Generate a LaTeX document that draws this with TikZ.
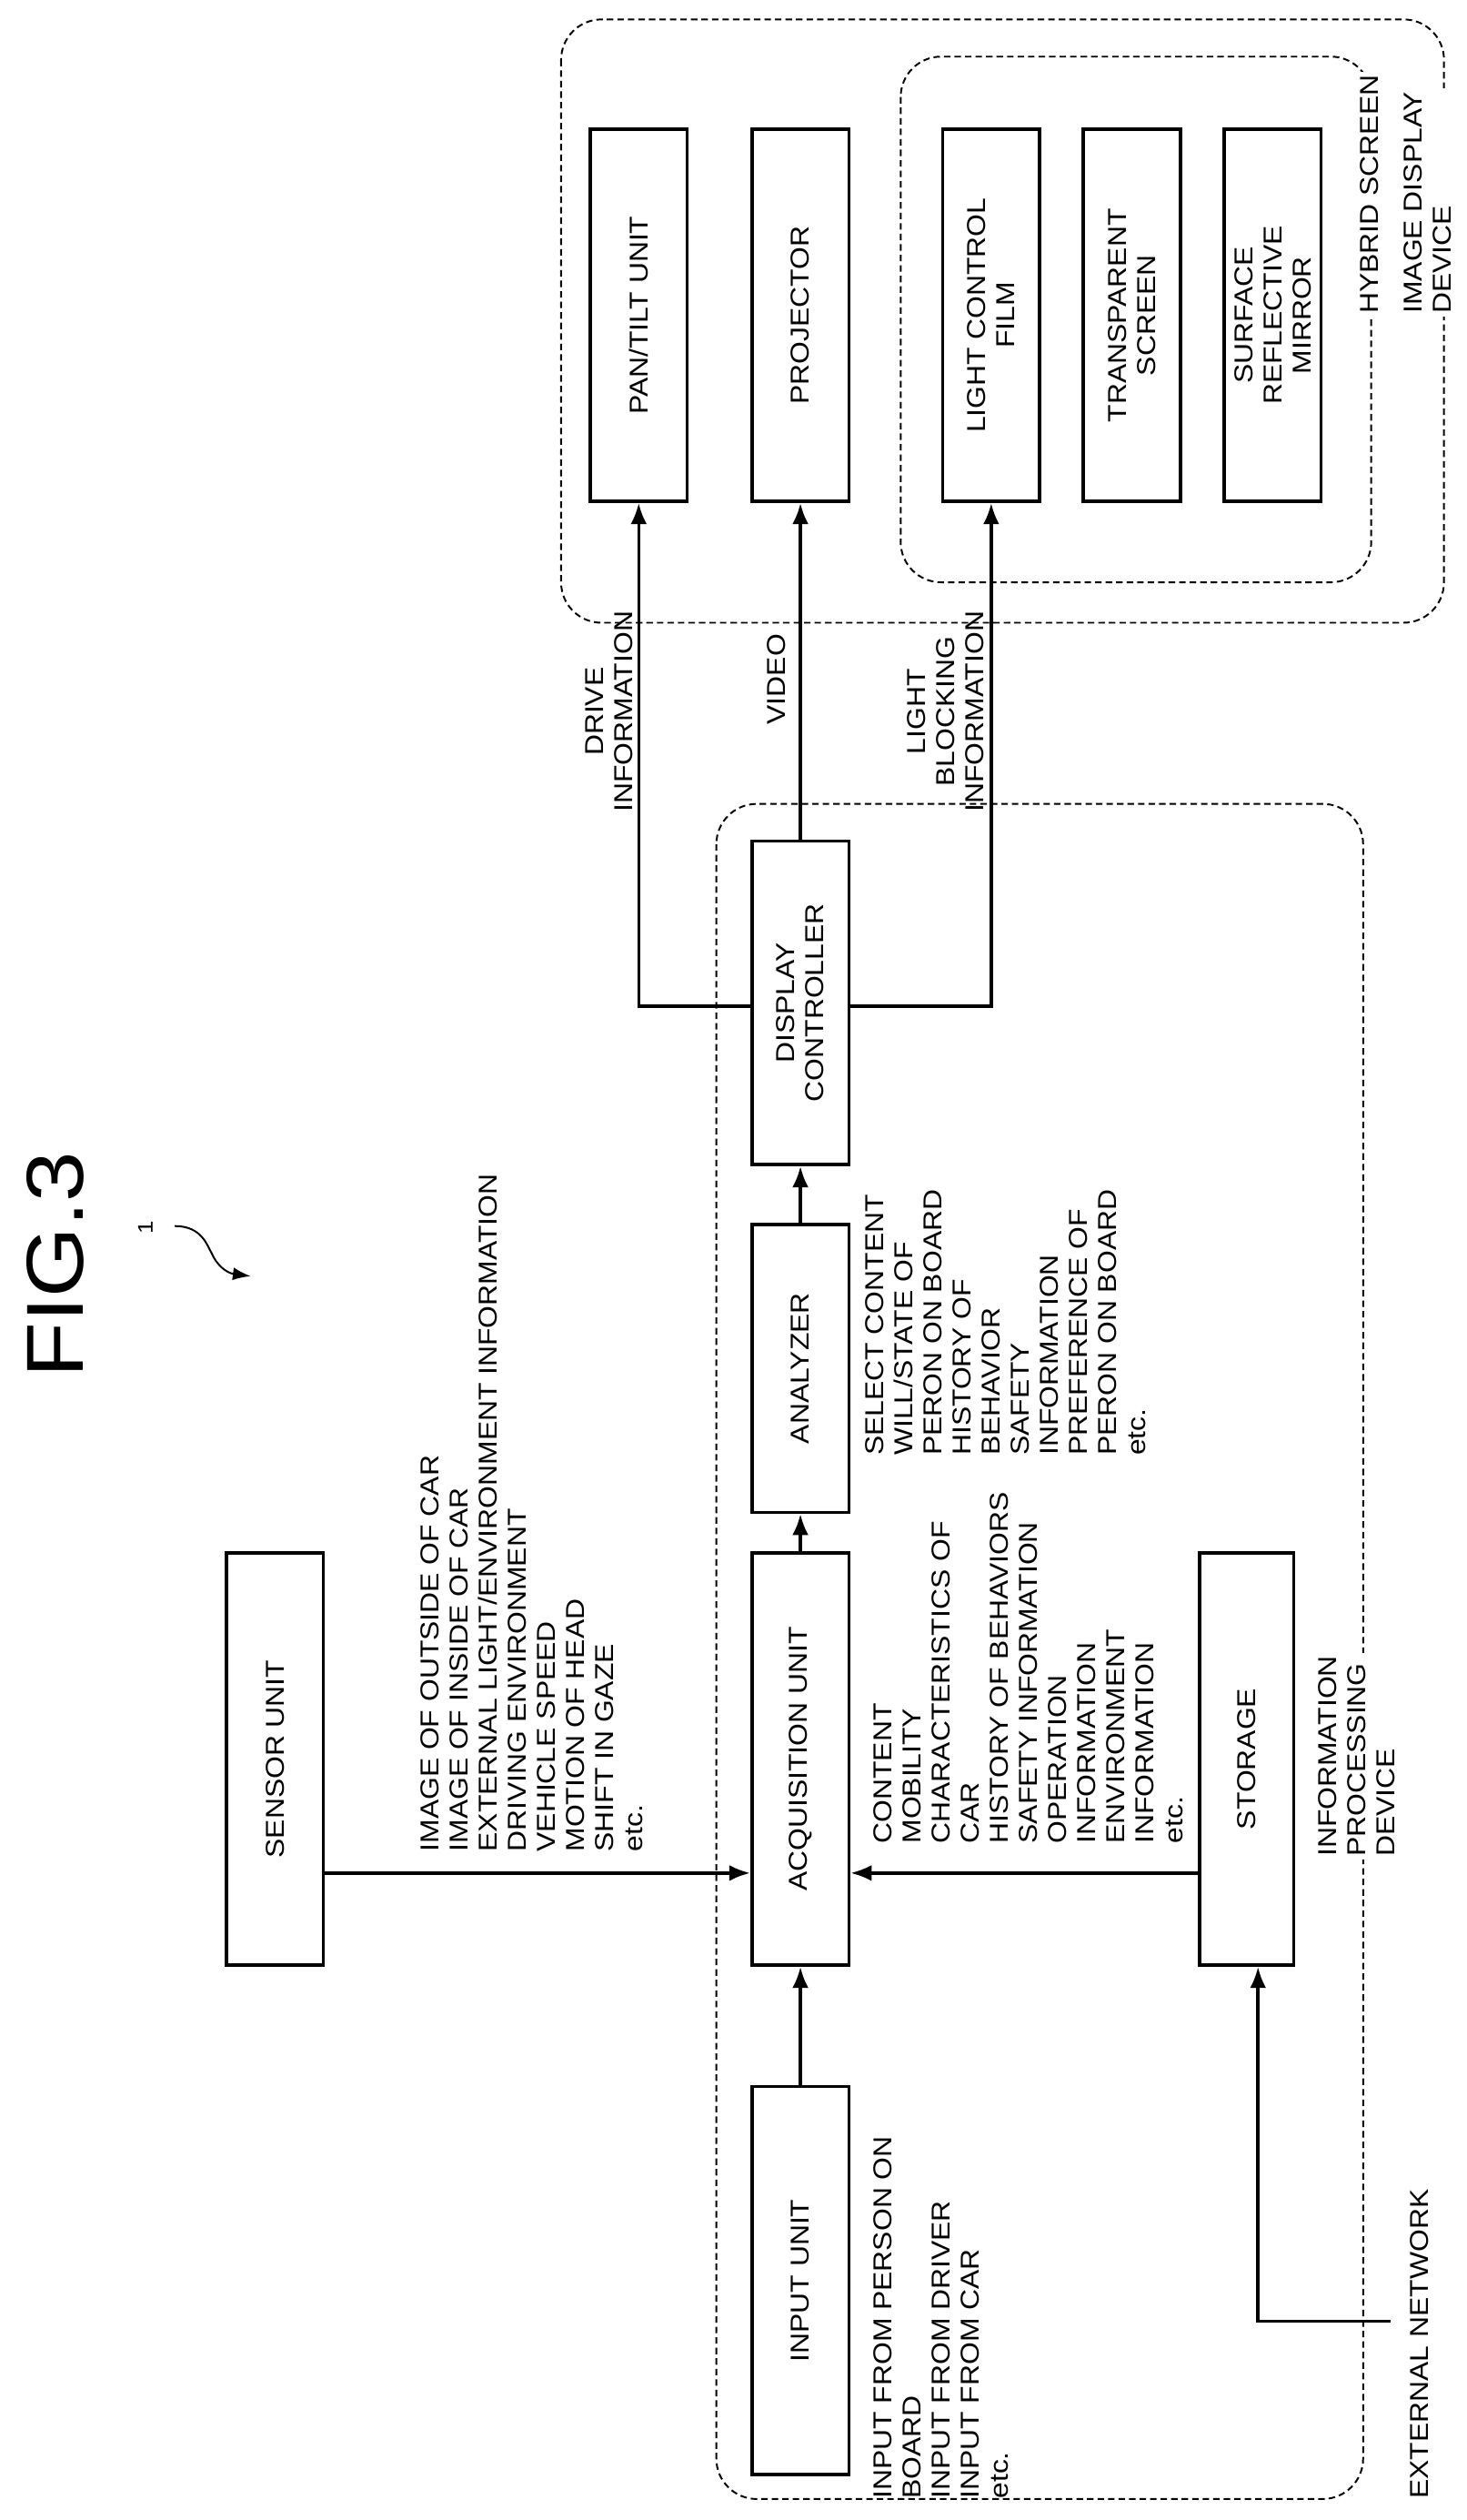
\documentclass[tikz,border=0pt]{standalone}
\usepackage{fontspec}
\setmainfont{Liberation Sans}[FakeStretch=1.12]
\usetikzlibrary{arrows.meta}
\begin{document}
\begin{tikzpicture}[x=1pt,y=-1pt,
  box/.style={draw,line width=2pt,rotate=90,minimum height=60pt,inner sep=0pt,font=\fontsize{16}{18}\selectfont,align=center},
  txt/.style={rotate=90,align=left,anchor=north west,inner sep=0pt,font=\fontsize{16}{18}\selectfont},
  ctxt/.style={rotate=90,align=center,inner sep=1pt,font=\fontsize{16}{18}\selectfont},
  lab/.style={rotate=90,align=left,inner sep=2pt,fill=white,font=\fontsize{16}{18}\selectfont},
  grp/.style={draw,dash pattern=on 4pt off 2.5pt,line width=1.1pt,rounded corners=25pt},
  arr/.style={line width=2pt,-{Latex[length=13pt,width=10pt]}}]
\useasboundingbox (0,0) rectangle (907,1558);
% groups
\draw[grp] (443,497) rectangle (843,1545);
\draw[grp] (347,12) rectangle (893,385);
\draw[grp] (557,35) rectangle (848,360);
\node[lab,anchor=north west] (ipd) at (813,1150) {INFORMATION\\PROCESSING\\DEVICE};
\node[lab,anchor=north west] (hyb) at (839,196) {HYBRID SCREEN};
\node[lab,anchor=north west] (idd) at (866,196) {IMAGE DISPLAY\\DEVICE};
% title
\node[rotate=90,font=\fontsize{50}{50}\selectfont,inner sep=0pt] (fig) at (34,782) {FIG.3};
\node[rotate=90,font=\fontsize{13}{13}\selectfont,inner sep=0pt] (one) at (90,759) {1};
\coordinate (oneend) at (155,789);
\draw[line width=1.1pt,-{Latex[length=11pt,width=8pt]}] (108,758) .. controls (125,758) and (128,770) .. (131,775) .. controls (134,782) and (140,787) .. (oneend);
% boxes
\node[box,minimum width=240pt] (inp) at (495,1410) {INPUT UNIT};
\node[box,minimum width=255pt] (acq) at (495,1087.5) {ACQUISITION UNIT};
\node[box,minimum width=178pt] (ana) at (495,846) {ANALYZER};
\node[box,minimum width=200pt] (dc) at (495,620) {DISPLAY\\CONTROLLER};
\node[box,minimum width=255pt] (sen) at (170,1087.5) {SENSOR UNIT};
\node[box,minimum width=255pt,minimum height=58pt] (sto) at (771,1087.5) {STORAGE};
\node[box,minimum width=230pt] (pan) at (395,195) {PAN/TILT UNIT};
\node[box,minimum width=230pt] (pro) at (495,195) {PROJECTOR};
\node[box,minimum width=230pt] (lcf) at (613,195) {LIGHT CONTROL\\FILM};
\node[box,minimum width=230pt] (ts) at (700,195) {TRANSPARENT\\SCREEN};
\node[box,minimum width=230pt] (srm) at (787,195) {SURFACE\\REFLECTIVE\\MIRROR};
% connectors
\draw[arr] (inp.east) -- (acq.west);
\draw[arr] (acq.east) -- (ana.west);
\draw[arr] (ana.east) -- (dc.west);
\draw[arr] (sen.south |- 0,1158) -- (acq.north |- 0,1158);
\draw[arr] (sto.north |- 0,1158) -- (acq.south |- 0,1158);
\coordinate (ext) at (860,1435);
\draw[arr] (ext) -- (778,1435) -- (sto.west -| 778,0);
\node[rotate=90,anchor=north west,inner sep=0pt,font=\fontsize{16}{18}\selectfont] (extl) at (872,1545) {EXTERNAL NETWORK};
\draw[arr] (dc.north |- 0,622) -- (395,622) -- (pan.west);
\draw[arr] (dc.east) -- (pro.west);
\draw[arr] (dc.south |- 0,622) -- (613,622) -- (lcf.west);
% labels
\node[ctxt] (drl) at (377,440) {DRIVE\\INFORMATION};
\node[ctxt] (vil) at (480,420) {VIDEO};
\node[ctxt] (lbl) at (585,440) {LIGHT\\BLOCKING\\INFORMATION};
\node[txt] (inl) at (540,1545) {INPUT FROM PERSON ON\\BOARD\\INPUT FROM DRIVER\\INPUT FROM CAR\\etc.};
\node[txt] (sel) at (260,1145) {IMAGE OF OUTSIDE OF CAR\\IMAGE OF INSIDE OF CAR\\EXTERNAL LIGHT/ENVIRONMENT INFORMATION\\DRIVING ENVIRONMENT\\VEHICLE SPEED\\MOTION OF HEAD\\SHIFT IN GAZE\\etc.};
\node[txt] (acl) at (540,1140) {CONTENT\\MOBILITY\\CHARACTERISTICS OF\\CAR\\HISTORY OF BEHAVIORS\\SAFETY INFORMATION\\OPERATION\\INFORMATION\\ENVIRONMENT\\INFORMATION\\etc.};
\node[txt] (anl) at (535,900) {SELECT CONTENT\\WILL/STATE OF\\PERON ON BOARD\\HISTORY OF\\BEHAVIOR\\SAFETY\\INFORMATION\\PREFERENCE OF\\PERON ON BOARD\\etc.};
\end{tikzpicture}
\end{document}
